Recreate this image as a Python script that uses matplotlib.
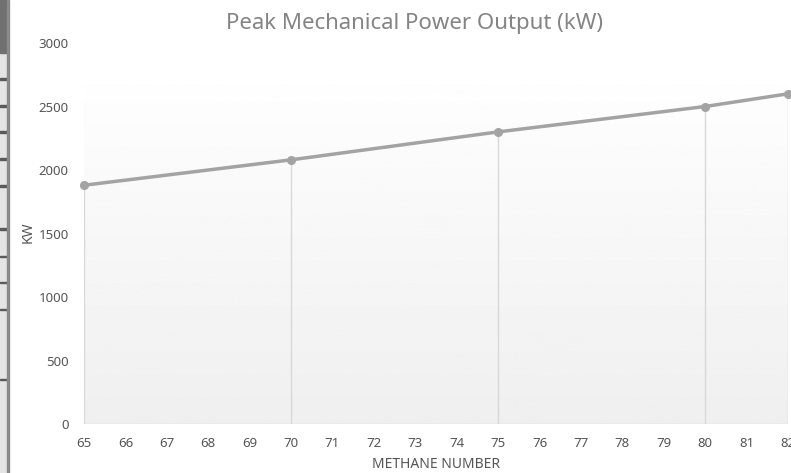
"""Peak mechanical power output vs methane number."""

from matplotlib import pyplot as plt
from matplotlib.patches import Rectangle
import numpy as np

methane_number = [65, 70, 75, 80, 82]
power_kw = [1880, 2080, 2300, 2500, 2600]
x_ticks = list(range(65, 83))
y_ticks = [0, 500, 1000, 1500, 2000, 2500, 3000]

# row lines of the spreadsheet strip on the left edge (pixel y)
strip_rows = [80, 107, 133, 160, 187, 230, 257, 283, 310, 380]

W, H = 791, 473
plt.rcParams['font.family'] = ['Noto Sans', 'DejaVu Sans']

fig = plt.figure(figsize=(W / 100, H / 100), dpi=100)

# left strip artefact
fig.patches.append(Rectangle((0, 0), 8 / W, 1, transform=fig.transFigure,
                             color='#e4e4e4', zorder=0))
fig.patches.append(Rectangle((0, 1 - 53 / H), 8 / W, 53 / H, transform=fig.transFigure,
                             color='#707070', zorder=1))
for r in strip_rows:
    fig.patches.append(Rectangle((0, 1 - r / H), 8 / W, 1.5 / H, transform=fig.transFigure,
                                 color='#5a5a5a', zorder=1))
fig.patches.append(Rectangle((7 / W, 0), 1.5 / W, 1, transform=fig.transFigure,
                             color='#8a8a8a', zorder=1))

ax = fig.add_axes([84 / W, (H - 424) / H, (788 - 84) / W, (424 - 43) / H])
ax.set_xlim(65, 82)
ax.set_ylim(0, 3000)

# gradient background of the plot area
grad = np.linspace(0.937, 0.995, 256).reshape(-1, 1)
ax.imshow(grad, cmap='gray', vmin=0, vmax=1, origin='lower', aspect='auto',
          extent=[65, 82, 0, 2670], zorder=0)

ax.vlines(methane_number, 0, power_kw, color='#d8d8d8', lw=1, zorder=1)
ax.axhline(0, color='#d6d6d6', lw=1, zorder=1)
ax.plot(methane_number, power_kw, color='#a3a3a3', lw=2.5, marker='o',
        markersize=5.5, clip_on=False, zorder=3)

for s in ax.spines.values():
    s.set_visible(False)
ax.set_xticks(x_ticks)
ax.set_yticks(y_ticks)
ax.tick_params(length=0, colors='#555555', labelsize=9.5)
ax.tick_params(axis='y', pad=11)
ax.tick_params(axis='x', pad=9)

fig.text(436 / W, 1 - 464 / H, 'METHANE NUMBER', color='#555555', fontsize=10,
         ha='center', va='center')
fig.text(28 / W, 1 - 232 / H, 'KW', color='#555555', fontsize=10,
         ha='center', va='center', rotation=90)
fig.text(415 / W, 1 - 23 / H, 'Peak Mechanical Power Output (kW)', color='#848484',
         fontsize=16, fontweight='medium', ha='center', va='center')

fig.savefig('out.png', dpi=100)
